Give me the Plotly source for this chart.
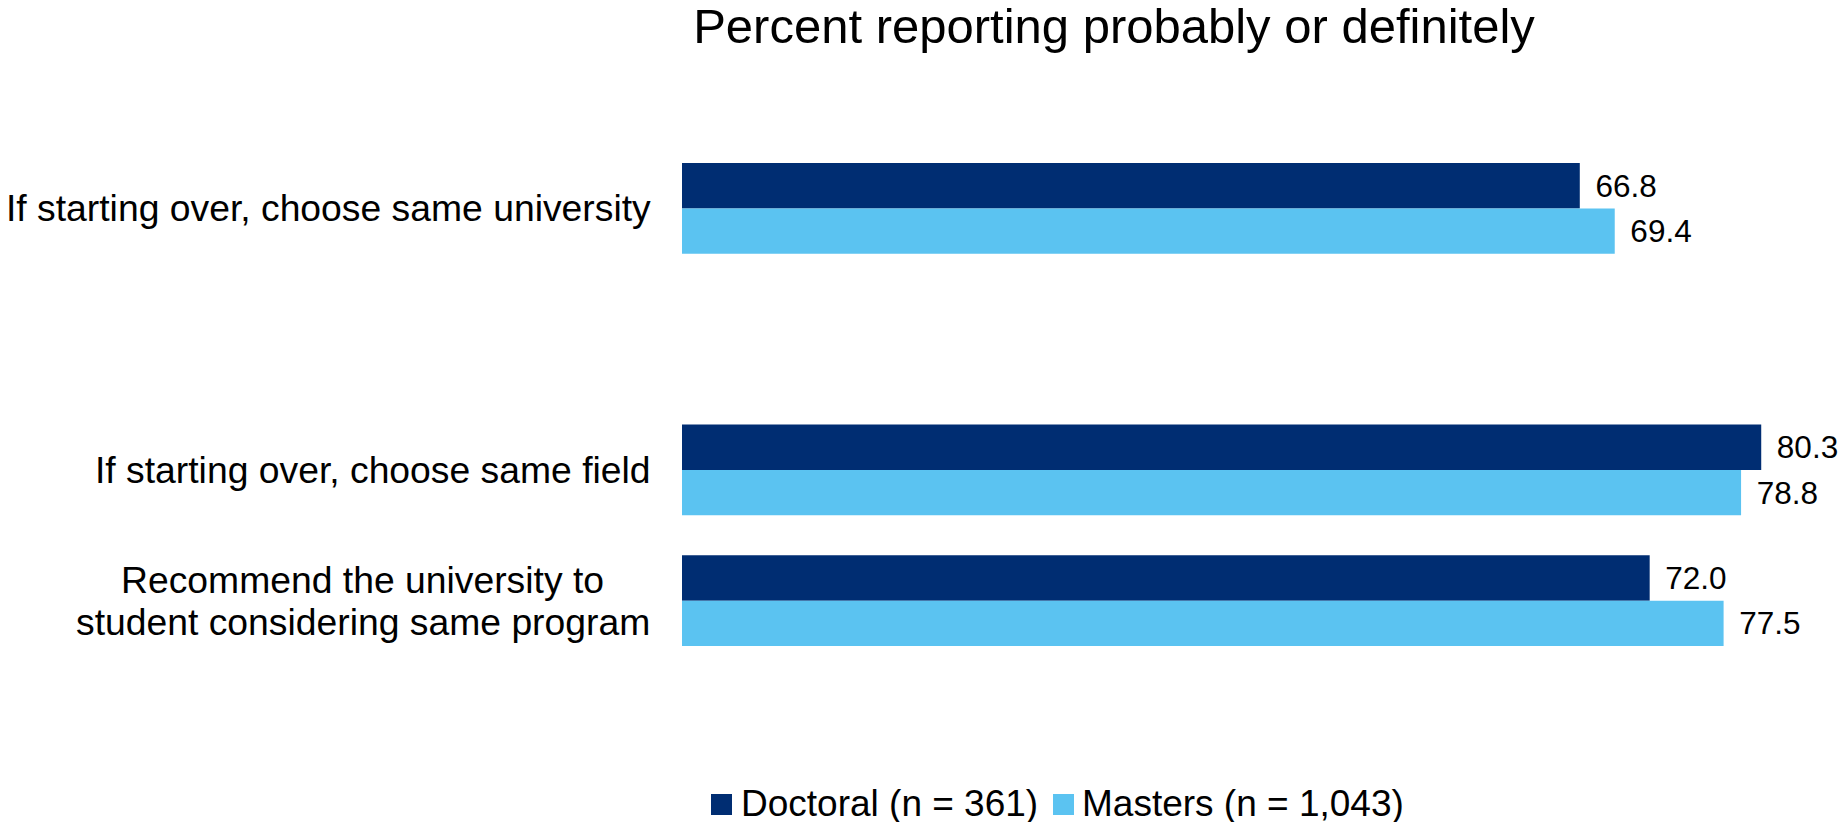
import plotly.graph_objects as go

# ---- data -------------------------------------------------------------
categories = [
    "If starting over, choose same university",
    "If starting over, choose same field",
    "Recommend the university to<br>student considering same program",
]
doctoral = [66.8, 80.3, 72.0]
masters = [69.4, 78.8, 77.5]
series_names = ["Doctoral (n = 361)", "Masters (n = 1,043)"]
colors = ["#002D72", "#5BC3F1"]
title_text = "Percent reporting probably or definitely"

# ---- layout constants (pixels) ---------------------------------------
W, H = 1845, 822
M_L, M_R, M_T, M_B = 682, 0, 143, 156
PLOT_W = W - M_L - M_R
PLOT_H = H - M_T - M_B
FONT = "Liberation Sans, Arial, sans-serif"
LABEL_SIZE = 37.3
LABEL_GAP = 29.5          # space between label block and bars
LINE_GAP = 42             # distance between lines of a wrapped label
WRAPPED_CENTER_X = 362.5  # horizontal centre of wrapped label blocks

# empty row between the first item and the other two
spacer = " "
axis_order = [categories[0], spacer, categories[1], categories[2]]


def px_to_paper_x(px):
    return (px - M_L) / PLOT_W


def px_to_paper_y(py):
    return (H - M_B - py) / PLOT_H


fig = go.Figure()
for name, vals, color in zip(series_names, [doctoral, masters], colors):
    fig.add_trace(
        go.Bar(
            y=categories,
            x=vals,
            orientation="h",
            name=name,
            marker=dict(color=color, line=dict(width=0)),
            text=vals,
            texttemplate="\u2009\u2009%{x:.1f}",
            textposition="outside",
            textfont=dict(family=FONT, size=31.5, color="#000000"),
            constraintext="none",
            cliponaxis=False,
            showlegend=False,
            hoverinfo="skip",
        )
    )

# category labels: single lines sit right next to the bars,
# wrapped labels are centred line by line
for cat in categories:
    lines = cat.split("<br>")
    for i, line in enumerate(lines):
        offset = (i - (len(lines) - 1) / 2) * LINE_GAP
        if len(lines) == 1:
            pos = dict(x=0, xanchor="right", xshift=-LABEL_GAP)
        else:
            pos = dict(x=px_to_paper_x(WRAPPED_CENTER_X), xanchor="center")
        fig.add_annotation(
            xref="paper", y=cat, yref="y",
            text=line, yanchor="middle", yshift=-offset, showarrow=False,
            font=dict(family=FONT, size=LABEL_SIZE, color="#000000"),
            **pos,
        )

# legend drawn as squares + labels under the chart
legend_items = [(711, 740), (1053, 1081)]
for (sq_x, txt_x), name, color in zip(legend_items, series_names, colors):
    fig.add_shape(
        type="rect", xref="paper", yref="paper",
        x0=px_to_paper_x(sq_x), x1=px_to_paper_x(sq_x + 21),
        y0=px_to_paper_y(794), y1=px_to_paper_y(815),
        fillcolor=color, line=dict(width=0),
    )
    fig.add_annotation(
        x=px_to_paper_x(txt_x), xref="paper",
        y=px_to_paper_y(803), yref="paper",
        text=name, xanchor="left", yanchor="middle",
        showarrow=False, borderpad=0,
        font=dict(family=FONT, size=37, color="#000000"),
    )

fig.update_layout(
    width=W, height=H,
    margin=dict(l=M_L, r=M_R, t=M_T, b=M_B, pad=0),
    paper_bgcolor="white", plot_bgcolor="white",
    barmode="group", bargap=0.305, bargroupgap=0,
    font=dict(family=FONT, color="#000000"),
    title=dict(
        text=title_text, x=1114 / W, xanchor="center", xref="container",
        y=1 - 26 / H, yanchor="middle", yref="container",
        font=dict(family=FONT, size=49, color="#000000"),
    ),
    xaxis=dict(
        range=[0, PLOT_W / 13.44], showgrid=False, zeroline=False,
        showline=False, showticklabels=False, ticks="",
    ),
    yaxis=dict(
        type="category", categoryorder="array", categoryarray=axis_order,
        range=[3.5, -0.5], showgrid=False, zeroline=False,
        showline=False, showticklabels=False, ticks="",
    ),
    showlegend=False,
)

fig.write_html("out.html")
